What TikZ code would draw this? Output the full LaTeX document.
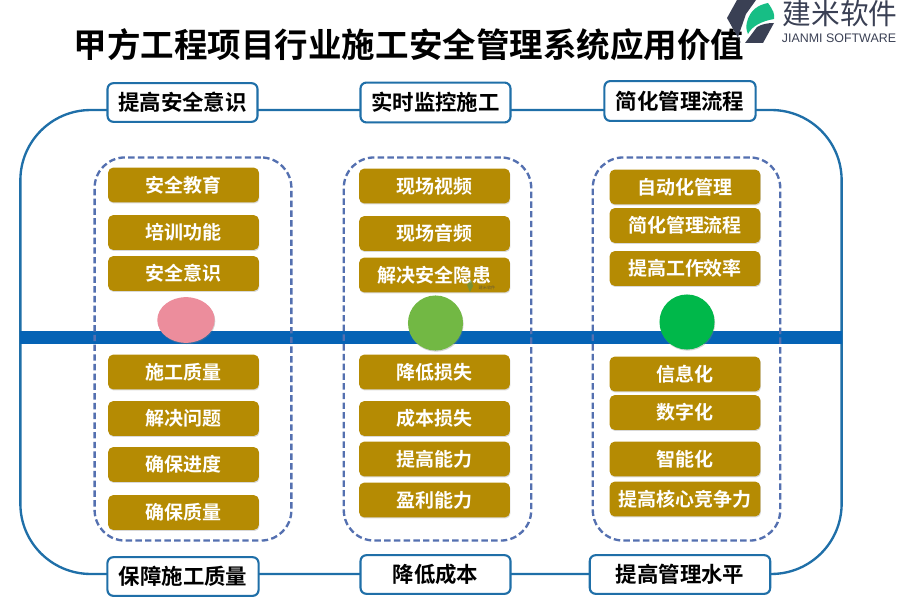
\documentclass[tikz,border=0pt]{standalone}
\usepackage{fontspec}
\setmainfont{Noto Sans CJK SC}[BoldFont={* Bold}]
\setsansfont{Liberation Sans}
\usetikzlibrary{shadows,shapes.geometric}

\definecolor{framecol}{HTML}{1F6FA8}
\definecolor{bandcol}{HTML}{0563B5}
\definecolor{dashcol}{HTML}{5470B0}
\definecolor{boxcol}{HTML}{B58B03}
\definecolor{logodark}{HTML}{3A4054}
\definecolor{logogreen}{HTML}{17BE85}
\definecolor{dotpink}{HTML}{EC8D9C}
\definecolor{dotlime}{HTML}{72B844}
\definecolor{dotgreen}{HTML}{00B84A}

\tikzset{
    headbox/.style={draw=framecol, line width=1.8pt, fill=white, rounded corners=5pt, inner sep=0pt,
        font=\fontsize{18.3}{20}\selectfont\bfseries, text=black, drop shadow={opacity=0.25, shadow xshift=0.5pt, shadow yshift=-0.8pt}},
    itembox/.style={fill=boxcol, rounded corners=4pt, inner sep=0pt, minimum width=128.5pt, minimum height=29.5pt,
        font=\fontsize{16.2}{18}\selectfont\bfseries, text=white, drop shadow={opacity=0.3, shadow xshift=0.5pt, shadow yshift=-1pt}},
    groupbox/.style={draw=dashcol, line width=2pt, dash pattern=on 5.5pt off 2.8pt, rounded corners=26pt, inner sep=0pt},
    dotnode/.style={ellipse, inner sep=0pt, drop shadow={opacity=0.35, shadow xshift=0.5pt, shadow yshift=-1pt}}
}

\begin{document}
\begin{tikzpicture}[x=0.03cm, y=-0.03cm]
    \useasboundingbox (0,0) rectangle (900,600);

    % title and logo
        \node (title) at (409,45) {\fontsize{28.6}{30}\selectfont\bfseries 甲方工程项目行业施工安全管理系统应用价值};
        \fill[logodark] (727,18) -- (737,0) -- (756,0) -- (746,14) -- (738,37) -- (741,43) -- cycle;
        \fill[logogreen] (747,22) .. controls (750,10) and (758,5) .. (768,3) .. controls (773,10) and (775,14) .. (774,19) .. controls (762,21) and (752,26) .. (748,34) .. controls (746,30) and (746,26) .. (747,22) -- cycle;
        \fill[logodark] (745,43) -- (757,27) .. controls (762,24) and (768,23) .. (774,23) -- (763,43) -- cycle;
        \node (logotext) at (840,14) {\fontsize{24.5}{26}\selectfont\color{logodark}建米软件};
        \node (logosub) at (839,38) {\fontsize{10.6}{12}\selectfont\sffamily\color{logodark}JIANMI SOFTWARE};

    % outer frame and band
        \node[draw=framecol, line width=2pt, rounded corners=60pt, minimum width=701pt, minimum height=396pt, inner sep=0pt] (frame) at (431,342) {};
        \node[fill=bandcol, minimum width=702pt, minimum height=11pt, inner sep=0pt] (band) at (431,337.5) {};

    % dashed groups
        \node[groupbox, minimum width=168pt, minimum height=327pt] (groupA) at (193,349) {};
        \node[groupbox, minimum width=160pt, minimum height=327pt] (groupB) at (437.5,349) {};
        \node[groupbox, minimum width=160pt, minimum height=327pt] (groupC) at (686.5,349) {};

    % heads
        \node[headbox, minimum width=128pt, minimum height=33pt] (headA) at (182.5,102.5) {提高安全意识};
        \node[headbox, minimum width=128pt, minimum height=34pt] (headB) at (435.5,102.5) {实时监控施工};
        \node[headbox, minimum width=129pt, minimum height=34pt] (headC) at (680,101) {简化管理流程};
        \node[headbox, minimum width=129pt, minimum height=33pt] (headD) at (183,576.5) {保障施工质量};
        \node[headbox, minimum width=128pt, minimum height=33pt] (headE) at (435.5,574.5) {降低成本};
        \node[headbox, minimum width=154pt, minimum height=33pt] (headF) at (680,574.5) {提高管理水平};

    % left column
        \node[itembox] (a1) at (183.5,185) {安全教育};
        \node[itembox] (a2) at (183.5,232.5) {培训功能};
        \node[itembox] (a3) at (183.5,273.5) {安全意识};
        \node[itembox] (a4) at (183.5,372) {施工质量};
        \node[itembox] (a5) at (183.5,418.5) {解决问题};
        \node[itembox] (a6) at (183.5,464.5) {确保进度};
        \node[itembox] (a7) at (183.5,512.5) {确保质量};

    % middle column
        \node[itembox] (b1) at (434.5,186) {现场视频};
        \node[itembox] (b2) at (434.5,233.5) {现场音频};
        \node[itembox] (b3) at (434.5,275) {解决安全隐患};
        \node[itembox] (b4) at (434.5,372) {降低损失};
        \node[itembox] (b5) at (434.5,418.5) {成本损失};
        \node[itembox] (b6) at (434.5,459) {提高能力};
        \node[itembox] (b7) at (434.5,500) {盈利能力};

    % right column
        \node[itembox] (c1) at (685,187) {自动化管理};
        \node[itembox] (c2) at (685,225.5) {简化管理流程};
        \node[itembox] (c3) at (685,268.5) {提高工作效率};
        \node[itembox] (c4) at (685,374) {信息化};
        \node[itembox] (c5) at (685,412.5) {数字化};
        \node[itembox] (c6) at (685,459) {智能化};
        \node[itembox] (c7) at (685,499) {提高核心竞争力};

    % dots on the band
        \node[dotnode, fill=dotpink, minimum width=49pt, minimum height=39pt] (dotA) at (186,320) {};
        \node[dotnode, fill=dotlime, minimum width=47pt, minimum height=47pt] (dotB) at (435.5,323) {};
        \node[dotnode, fill=dotgreen, minimum width=47pt, minimum height=47pt] (dotC) at (687,322) {};

    % watermark
        \fill[dotlime!70!logodark, opacity=0.7] (467,285) -- (471,280) -- (473,286) -- (470,292) -- cycle;
        \node[opacity=0.6, inner sep=0pt] (mark) at (487,287.5) {\fontsize{3.6}{4}\selectfont\color{logodark}建米软件};
\end{tikzpicture}
\end{document}
